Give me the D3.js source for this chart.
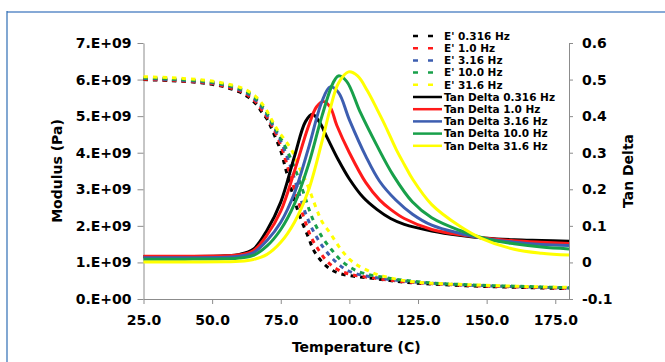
<!DOCTYPE html>
<html><head><meta charset="utf-8">
<script src="https://cdn.jsdelivr.net/npm/d3@7"></script>
<style>
html,body{margin:0;padding:0;background:#fff;}
svg{display:block;font-family:"DejaVu Sans",Verdana,sans-serif;font-weight:bold;}
</style></head>
<body><svg id="c" width="665" height="362"></svg>
<script>
// ---- data ----
const freqs = ["0.316 Hz", "1.0 Hz", "3.16 Hz", "10.0 Hz", "31.6 Hz"];
const colors = ["#000000", "#ff1a1a", "#3d5eb0", "#18a04a", "#ffff00"];
const xTicks = [25, 50, 75, 100, 125, 150, 175];
const xTickLabels = ["25.0", "50.0", "75.0", "100.0", "125.0", "150.0", "175.0"];
const yLeftTicks = [0, 1e9, 2e9, 3e9, 4e9, 5e9, 6e9, 7e9];
const yLeftLabels = ["0.E+00", "1.E+09", "2.E+09", "3.E+09", "4.E+09", "5.E+09", "6.E+09", "7.E+09"];
const yRightTicks = [-0.1, 0, 0.1, 0.2, 0.3, 0.4, 0.5, 0.6];
const yRightLabels = ["-0.1", "0", "0.1", "0.2", "0.3", "0.4", "0.5", "0.6"];

// storage modulus E' (units of 1e9 Pa), [temperature, value]
const eMod0316 = [[25,6.00],[35,5.97],[45,5.92],[50,5.87],[55,5.79],[60,5.66],[63,5.53],[66,5.33],[68,5.12],[70,4.92],[72,4.6],[75,4.05],[77,3.5],[80,2.7],[82,2.25],[85,1.7],[87,1.33],[90,1.02],[93,0.82],[96,0.71],[100,0.64],[110,0.55],[120,0.46],[130,0.41],[140,0.37],[150,0.34],[160,0.32],[170,0.30],[180,0.28]];
const eMod10 = [[25,6.01],[35,5.98],[45,5.93],[50,5.89],[55,5.81],[60,5.69],[63,5.57],[66,5.38],[68,5.18],[70,4.97],[72,4.7],[75,4.2],[78,3.5],[80,3.0],[83.3,2.25],[86,1.7],[88.8,1.34],[92,1.02],[96.1,0.79],[100,0.68],[110,0.56],[120,0.47],[130,0.42],[140,0.38],[150,0.35],[160,0.33],[170,0.31],[180,0.29]];
const eMod316 = [[25,6.03],[35,6.0],[45,5.95],[50,5.91],[55,5.84],[60,5.72],[63,5.61],[66,5.43],[68,5.25],[70,5.03],[72,4.76],[75,4.32],[78,3.75],[81,3.05],[84.5,2.25],[88,1.7],[91.2,1.34],[95,1.02],[99.1,0.79],[104,0.66],[110,0.58],[120,0.49],[130,0.43],[140,0.39],[150,0.36],[160,0.34],[170,0.32],[180,0.30]];
const eMod100 = [[25,6.05],[35,6.02],[45,5.97],[50,5.93],[55,5.86],[60,5.75],[63,5.65],[66,5.48],[68,5.3],[70,5.08],[72,4.8],[75,4.4],[78,3.95],[81,3.4],[84,2.75],[86.3,2.25],[90,1.7],[93.6,1.34],[97.5,1.02],[102.1,0.79],[107,0.67],[112,0.6],[120,0.51],[130,0.44],[140,0.4],[150,0.37],[160,0.35],[170,0.33],[180,0.31]];
const eMod316b = [[25,6.08],[35,6.05],[45,6.0],[50,5.96],[55,5.89],[60,5.79],[63,5.69],[66,5.53],[68,5.36],[70,5.14],[72,4.86],[74,4.6],[76,4.4],[79,4.07],[82,3.55],[84.5,3.16],[88.1,2.45],[90,2.12],[93,1.8],[96.6,1.39],[100,1.09],[103,0.92],[106.4,0.79],[110,0.67],[113.7,0.6],[118.5,0.52],[123.4,0.47],[130,0.43],[140,0.40],[148,0.38],[160,0.35],[170,0.33],[180,0.32]];

// tan delta, [temperature, value]
const tan0316 = [[25,0.016],[40,0.016],[55,0.018],[60,0.022],[65,0.036],[70,0.088],[75,0.165],[80,0.29],[84,0.385],[86.5,0.405],[89,0.385],[92,0.34],[96,0.28],[100,0.228],[105,0.178],[110,0.145],[115,0.12],[120,0.104],[130,0.086],[140,0.074],[150,0.066],[160,0.062],[170,0.06],[180,0.058]];
const tan10 = [[25,0.017],[40,0.017],[55,0.018],[60,0.021],[65,0.032],[70,0.075],[75,0.14],[80,0.25],[85,0.37],[88,0.425],[90.5,0.44],[93,0.425],[95.4,0.375],[100,0.30],[106,0.218],[111,0.171],[115,0.145],[120,0.12],[130,0.09],[140,0.076],[150,0.066],[160,0.059],[170,0.055],[180,0.052]];
const tan316 = [[25,0.013],[40,0.013],[55,0.014],[60,0.017],[65,0.026],[70,0.06],[75,0.11],[80,0.19],[85,0.31],[90,0.44],[93,0.48],[96,0.465],[100,0.39],[106,0.29],[111,0.222],[117,0.17],[123,0.132],[130,0.102],[140,0.08],[150,0.065],[160,0.055],[170,0.049],[180,0.046]];
const tan100 = [[25,0.009],[40,0.009],[55,0.01],[60,0.012],[65,0.019],[70,0.045],[75,0.09],[80,0.16],[85,0.265],[90,0.40],[94,0.49],[96,0.51],[99,0.495],[104,0.41],[110,0.32],[116,0.238],[123,0.165],[130,0.122],[140,0.088],[150,0.064],[160,0.051],[170,0.042],[180,0.037]];
const tan316b = [[25,0.001],[40,0.001],[55,0.002],[60,0.003],[65,0.008],[70,0.022],[75,0.055],[80,0.11],[85,0.195],[90,0.33],[93,0.42],[96,0.49],[99.7,0.521],[103,0.51],[106.5,0.47],[110,0.42],[113,0.375],[117,0.31],[120,0.268],[123,0.228],[130,0.158],[140,0.1],[148,0.066],[160,0.036],[170,0.025],[180,0.02]];

const eSeries = [eMod0316, eMod10, eMod316, eMod100, eMod316b];
const tanSeries = [tan0316, tan10, tan316, tan100, tan316b];

// ---- drawing ----
const svg = d3.select("#c");
const L = 143.5, R = 569, T = 43, B = 299;

// frame
svg.append("line").attr("x1",7).attr("x2",665).attr("y1",12).attr("y2",12).attr("stroke","#86a9d6").attr("stroke-width",2);
svg.append("line").attr("x1",7).attr("x2",7).attr("y1",11).attr("y2",362).attr("stroke","#2e6db4").attr("stroke-width",1.2);

const x = d3.scaleLinear().domain([25,180]).range([L,R]);
const yL = d3.scaleLinear().domain([0,7e9]).range([B,T]);
const yR = d3.scaleLinear().domain([-0.1,0.6]).range([B,T]);

const axisColor = "#8c8c8c";
function styleAxis(g){
  g.selectAll(".domain").attr("stroke",axisColor).attr("stroke-width",1);
  g.selectAll(".tick line").attr("stroke",axisColor).attr("stroke-width",1);
  g.selectAll(".tick text").attr("fill","#000").attr("font-size",14).attr("font-weight","bold").attr("font-family","DejaVu Sans, Verdana, sans-serif");
}

const gx = svg.append("g").attr("transform",`translate(0,${B})`)
  .call(d3.axisBottom(x).tickValues(xTicks).tickFormat((d,i)=>xTickLabels[i]).tickSize(5).tickSizeOuter(0).tickPadding(11));
styleAxis(gx);
const gl = svg.append("g").attr("transform",`translate(${L},0)`)
  .call(d3.axisLeft(yL).tickValues(yLeftTicks).tickFormat((d,i)=>yLeftLabels[i]).tickSize(6).tickSizeOuter(0).tickPadding(6));
styleAxis(gl);
const gr = svg.append("g").attr("transform",`translate(${R},0)`)
  .call(d3.axisRight(yR).tickValues(yRightTicks).tickFormat((d,i)=>yRightLabels[i]).tickSize(4).tickSizeOuter(0).tickPadding(9));
styleAxis(gr);

// axis titles
svg.append("text").attr("x",(L+R)/2).attr("y",352).attr("text-anchor","middle").attr("font-size",14).text("Temperature (C)");
svg.append("text").attr("transform",`translate(62,${(T+B)/2}) rotate(-90)`).attr("text-anchor","middle").attr("font-size",14).text("Modulus (Pa)");
svg.append("text").attr("transform",`translate(633,${(T+B)/2}) rotate(-90)`).attr("text-anchor","middle").attr("font-size",14).text("Tan Delta");

// curves
const plot = svg.append("g");
const lineE = d3.line().x(d=>x(d[0])).y(d=>yL(d[1]*1e9)).curve(d3.curveCatmullRom.alpha(0.5));
const lineT = d3.line().x(d=>x(d[0])).y(d=>yR(d[1])).curve(d3.curveCatmullRom.alpha(0.5));

eSeries.forEach((s,i)=>{
  plot.append("path").attr("d",lineE(s)).attr("fill","none").attr("stroke",colors[i])
    .attr("stroke-width",3).attr("stroke-dasharray","4.5,5");
});
tanSeries.forEach((s,i)=>{
  plot.append("path").attr("d",lineT(s)).attr("fill","none").attr("stroke",colors[i])
    .attr("stroke-width",3);
});

// legend
const legend = svg.append("g");
const rowY0 = 36, rowDy = 12.2;
const entries = freqs.map((f,i)=>({label:"E' "+f, color:colors[i], dash:true}))
  .concat(freqs.map((f,i)=>({label:"Tan Delta "+f, color:colors[i], dash:false})));
entries.forEach((e,i)=>{
  const yy = rowY0 + i*rowDy;
  legend.append("line").attr("x1",413).attr("x2",442).attr("y1",yy).attr("y2",yy)
    .attr("stroke",e.color).attr("stroke-width",2.5)
    .attr("stroke-dasharray",e.dash?"5,10":null);
  legend.append("text").attr("x",444).attr("y",yy).attr("dy","0.36em").attr("font-size",10.5).text(e.label);
});
</script></body></html>
